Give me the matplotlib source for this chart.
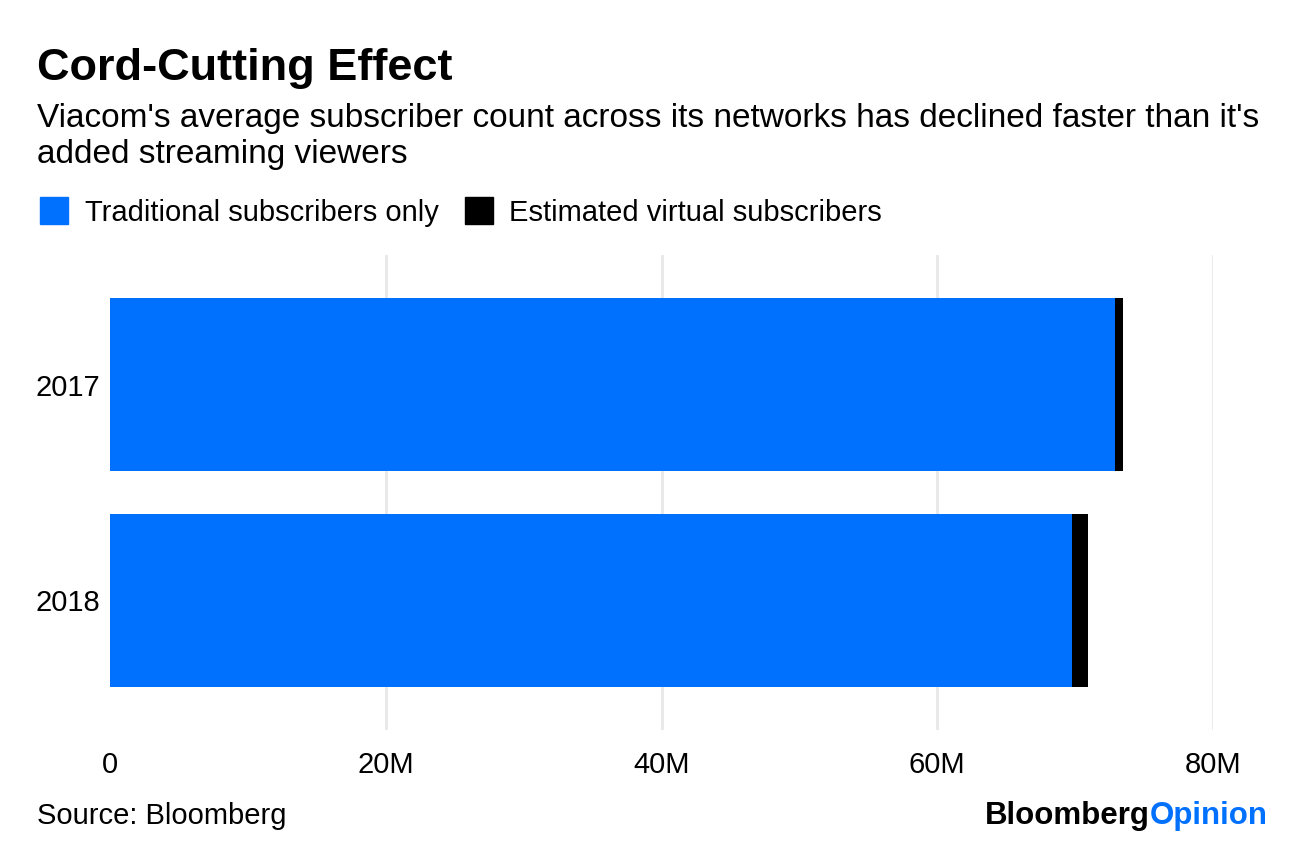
import matplotlib
matplotlib.use('Agg')
from matplotlib import pyplot as plt
from matplotlib.patches import Rectangle

plt.rcParams['font.family'] = ['Liberation Sans', 'DejaVu Sans']

# values (millions)
years = ['2017', '2018']
traditional = [72.9, 69.8]
virtual = [0.55, 1.15]
ticks = [0, 20, 40, 60, 80]
tick_labels = ['0', '20M', '40M', '60M', '80M']

blue = '#0070ff'

fig = plt.figure(figsize=(12.96, 8.46), dpi=100)
ax = fig.add_axes([110/1296, 1-730/846, 1103/1296, 475/846])

pos = list(range(len(years)))
ax.barh(pos, traditional, height=0.8, color=blue, zorder=2)
ax.barh(pos, virtual, left=traditional, height=0.8, color='black', zorder=2)

ax.set_xlim(0, 80)
ax.set_ylim(1.6, -0.6)
ax.set_xticks(ticks)
ax.set_xticklabels(tick_labels)
ax.set_yticks(pos)
ax.set_yticklabels(years)
ax.grid(axis='x', color='#e8e8e8', linewidth=2, zorder=0)
ax.get_xgridlines()[0].set_visible(False)
ax.set_axisbelow(True)
for s in ax.spines.values():
    s.set_visible(False)
ax.tick_params(length=0, labelsize=21)
ax.tick_params(axis='x', pad=15)
ax.tick_params(axis='y', pad=7)

fig.text(37/1296, 1-80/846, 'Cord-Cutting Effect', fontsize=32.5, fontweight='bold')
fig.text(37/1296, 1-127/846,
         "Viacom's average subscriber count across its networks has declined faster than it's",
         fontsize=24)
fig.text(37/1296, 1-163/846, 'added streaming viewers', fontsize=24)

# legend
fig.patches.append(Rectangle((40/1296, 1-224/846), 28/1296, 27/846,
                             transform=fig.transFigure, color=blue))
fig.text(85/1296, 1-221/846, 'Traditional subscribers only', fontsize=21)
fig.patches.append(Rectangle((465/1296, 1-224/846), 28/1296, 27/846,
                             transform=fig.transFigure, color='black'))
fig.text(509/1296, 1-221/846, 'Estimated virtual subscribers', fontsize=21)

fig.text(37/1296, 1-824/846, 'Source: Bloomberg', fontsize=21)
t1 = fig.text(1268/1296, 1-824/846, 'Opinion', fontsize=22.5, fontweight='bold',
              color=blue, ha='right')
fig.canvas.draw()
bb = t1.get_window_extent()
fig.text(bb.x0/1296, 1-824/846, 'Bloomberg', fontsize=22.5, fontweight='bold',
         color='black', ha='right')

fig.savefig('out.png', dpi=100)
